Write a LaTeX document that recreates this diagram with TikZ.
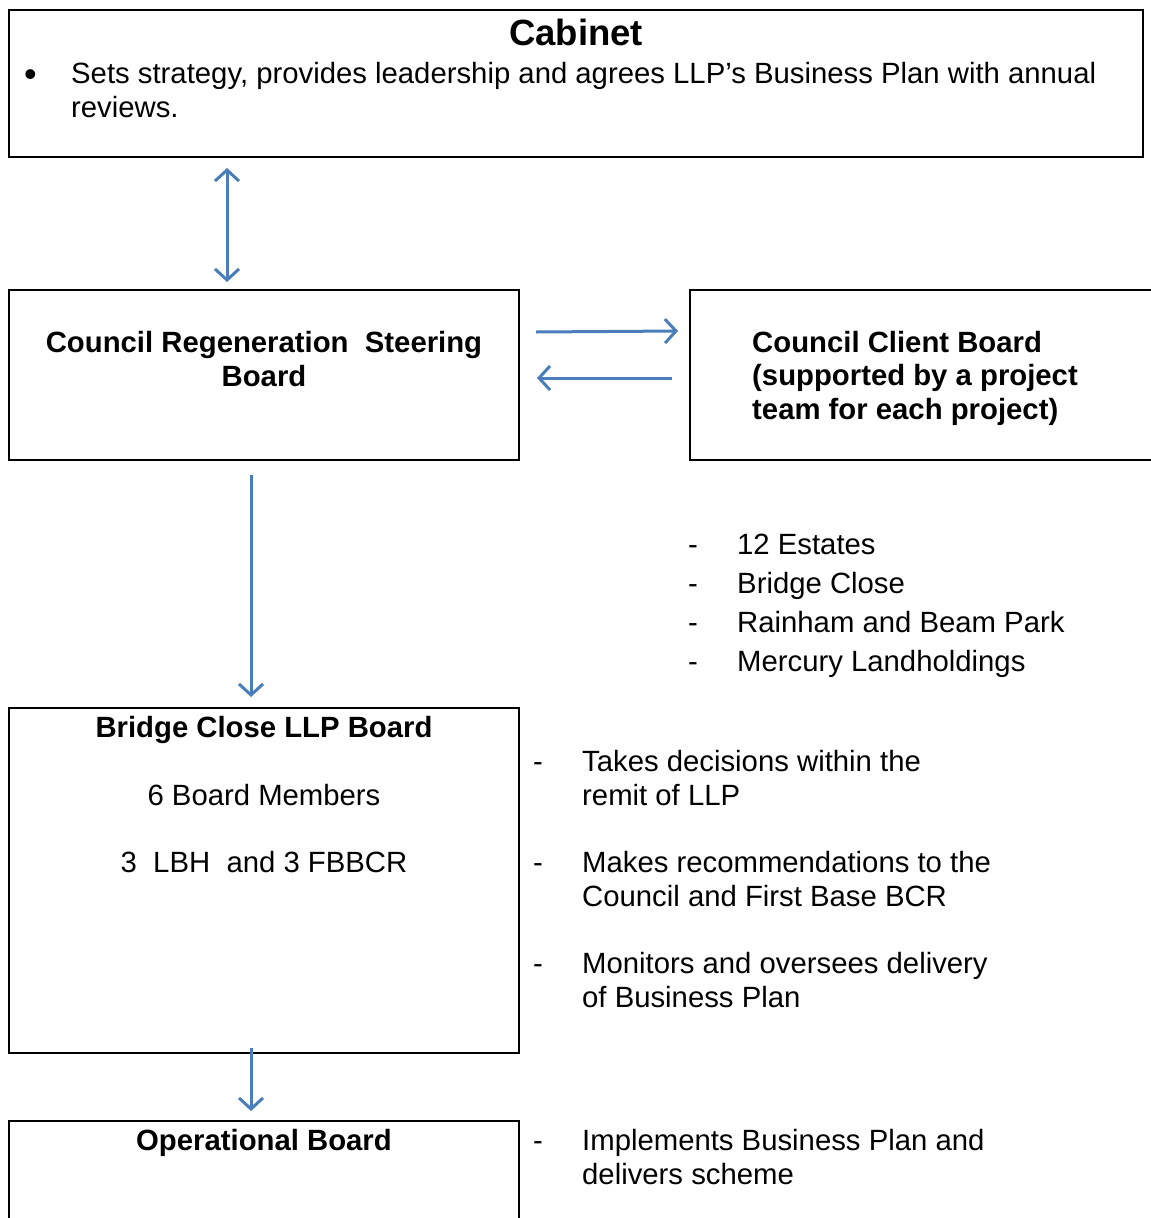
\documentclass[tikz,border=0pt]{standalone}
\usepackage{fontspec}
\setmainfont{Liberation Sans}
\usetikzlibrary{arrows.meta}
\definecolor{linkblue}{RGB}{74,126,187}
\newcommand{\bodysize}{\fontsize{29.3}{34}\selectfont}

\begin{document}
\begin{tikzpicture}[x=1pt, y=-1pt, >={Straight Barb[length=11pt, width=24pt]},
  box/.style={draw, line width=1.8pt, inner sep=0pt, outer sep=0pt, anchor=north west},
  link/.style={draw=linkblue, line width=3pt},
  txt/.style={inner sep=0pt, anchor=base west, align=left, font=\bodysize},
  head/.style={inner sep=0pt, anchor=base, align=center, font=\bodysize\bfseries}]
  \useasboundingbox (0,0) rectangle (1151,1218);
  \clip (0,0) rectangle (1151,1218);
  % Boxes
  \node[box, minimum width=1134pt, minimum height=147pt] (cabinet) at (9,10) {};
  \node[box, minimum width=510pt, minimum height=170pt] (steer) at (9,290) {};
  \node[box, minimum width=480pt, minimum height=170pt] (client) at (690,290) {};
  \node[box, minimum width=510pt, minimum height=345pt] (llp) at (9,708) {};
  \node[box, minimum width=510pt, minimum height=140pt] (ops) at (9,1121) {};
  % Cabinet text (multi-line nodes sit on their last baseline)
  \node[head, font=\fontsize{36.5}{40}\selectfont\bfseries] (cabtitle) at (576,45) {Cabinet};
  \node[txt, font=\fontsize{36}{40}\selectfont] (cabdot) at (24,86) {•};
  \node[txt] (cabtext) at (71,117) {Sets strategy, provides leadership and agrees LLP’s Business Plan with annual\\reviews.};
  % Board titles
  \node[head] (steertext) at (264,386) {Council Regeneration\ \ Steering\\Board};
  \node[txt, font=\fontsize{29.3}{33.5}\selectfont\bfseries] (clienttext) at (752,419) {Council Client Board\\(supported by a project\\team for each project)};
  \node[head] (llptitle) at (264,737) {Bridge Close LLP Board};
  \node[txt, anchor=base] (llpmembers) at (264,805) {6 Board Members};
  \node[txt, anchor=base] (llpsplit) at (264,872) {3\ \ LBH\ \ and 3 FBBCR};
  \node[head] (opstitle) at (264,1150) {Operational Board};
  % Projects list
  \foreach \name [count=\i] in {12 Estates, Bridge Close, Rainham and Beam Park, Mercury Landholdings} {
    \node[txt] (projdash\i) at (688,554+39*\i-39) {-};
    \node[txt] (proj\i) at (737,554+39*\i-39) {\name};
  }
  % LLP roles
  \node[txt] (roledash1) at (533,771) {-};
  \node[txt] (role1) at (582,805) {Takes decisions within the\\remit of LLP};
  \node[txt] (roledash2) at (533,872) {-};
  \node[txt] (role2) at (582,906) {Makes recommendations to the\\Council and First Base BCR};
  \node[txt] (roledash3) at (533,973) {-};
  \node[txt] (role3) at (582,1007) {Monitors and oversees delivery\\of Business Plan};
  \node[txt] (roledash4) at (533,1150) {-};
  \node[txt] (role4) at (582,1184) {Implements Business Plan and\\delivers scheme};
  % Arrows
  \draw[link, <->] ([xshift=218pt, yshift=-11pt]cabinet.south west) -- ([xshift=218pt, yshift=8pt]steer.north west);
  \draw[link, ->] ([xshift=17pt, yshift=-42pt]steer.north east) -- ([xshift=-12pt, yshift=-41pt]client.north west);
  \draw[link, ->] ([xshift=-18pt, yshift=-88pt]client.north west) -- ([xshift=18pt, yshift=-88pt]steer.north east);
  \draw[link, ->] ([xshift=242pt, yshift=-15pt]steer.south west) -- ([xshift=242pt, yshift=11pt]llp.north west);
  \draw[link, ->] ([xshift=242pt, yshift=5pt]llp.south west) -- ([xshift=242pt, yshift=10pt]ops.north west);
\end{tikzpicture}
\end{document}
